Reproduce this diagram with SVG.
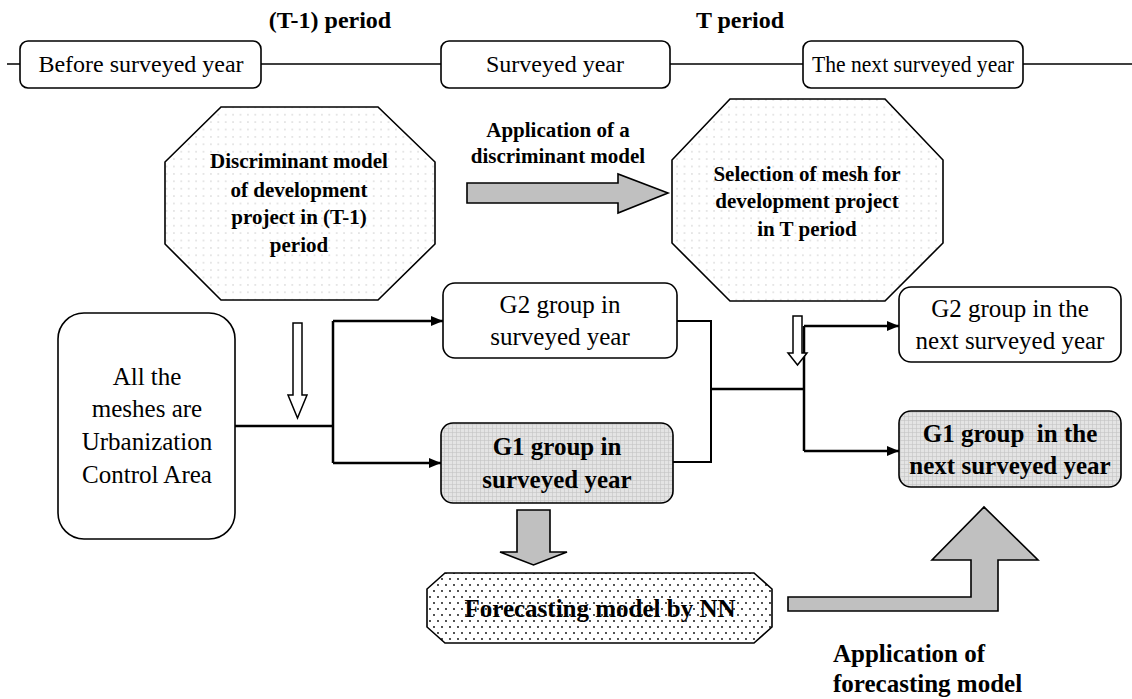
<svg xmlns="http://www.w3.org/2000/svg" width="1132" height="699" viewBox="0 0 1132 699">
<defs>
<pattern id="dots" width="7.4" height="7.4" patternUnits="userSpaceOnUse">
<rect width="7.4" height="7.4" fill="#ffffff"/>
<circle cx="3.7" cy="3.7" r="0.65" fill="#b8b8b8"/>
</pattern>
<pattern id="bigdots" width="8" height="12" patternUnits="userSpaceOnUse">
<rect width="8" height="12" fill="#ffffff"/>
<circle cx="2" cy="3" r="0.9" fill="#000000"/>
<circle cx="6" cy="9" r="0.9" fill="#000000"/>
</pattern>
<pattern id="grid" width="4" height="4" patternUnits="userSpaceOnUse">
<rect width="4" height="4" fill="#e4e4e4"/>
<path d="M0 0.5H4M0.5 0V4" stroke="#c4c4c4" stroke-width="0.6"/>
</pattern>
<marker id="ah" markerWidth="12" markerHeight="10" refX="12" refY="5" orient="auto" markerUnits="userSpaceOnUse">
<path d="M0 0L12 5L0 10Z" fill="#000"/>
</marker>
</defs>
<style>
.box{fill:#fff;stroke:#000;stroke-width:1.6}
.gbox{fill:url(#grid);stroke:#000;stroke-width:1.6}
.oct{fill:url(#dots);stroke:#000;stroke-width:1.6}
.octd{fill:url(#bigdots);stroke:#000;stroke-width:1.6}
.garrow{fill:#c0c0c0;stroke:#000;stroke-width:1.6}
.harrow{fill:#fff;stroke:#000;stroke-width:1.5}
.t{font-family:"Liberation Serif","Times New Roman",serif;fill:#000}
.r24{font-size:24px}
.r25{font-size:25px}
.b21{font-size:21px;font-weight:bold}
.b24{font-size:24px;font-weight:bold}
.b25{font-size:25px;font-weight:bold}
.line{stroke:#000;stroke-width:1.6;fill:none}
.conn{stroke:#000;stroke-width:2.5;fill:none}
.conn2{stroke:#000;stroke-width:2;fill:none}
</style>

<g id="timeline">
<path class="line" d="M7 64H20M261 64H441M670 64H803M1023 64H1132"/>
</g>
<text class="t b24" x="330" y="28" text-anchor="middle">(T-1) period</text>
<text class="t b24" x="740" y="28" text-anchor="middle">T period</text>

<g id="before">
<rect class="box" x="20" y="41" width="241" height="47" rx="8"/>
<text class="t r24" x="141" y="72" text-anchor="middle">Before surveyed year</text>
</g>
<g id="surveyed">
<rect class="box" x="441" y="41" width="229" height="47" rx="8"/>
<text class="t r24" x="555" y="72" text-anchor="middle">Surveyed year</text>
</g>
<g id="next">
<rect class="box" x="803" y="41" width="220" height="47" rx="8"/>
<text class="t r24" x="913" y="72" text-anchor="middle" textLength="202" lengthAdjust="spacingAndGlyphs">The next surveyed year</text>
</g>

<g id="disc-model">
<polygon class="oct" points="221,107 378,107 435,162 435,244 378,300 221,300 165,244 165,162"/>
<text class="t b21" x="299" y="168" text-anchor="middle">Discriminant model</text>
<text class="t b21" x="299" y="197" text-anchor="middle">of development</text>
<text class="t b21" x="299" y="224" text-anchor="middle">project in (T-1)</text>
<text class="t b21" x="299" y="252" text-anchor="middle">period</text>
</g>

<g id="selection">
<polygon class="oct" points="730,99 885,99 943,160 943,243 885,301 730,301 672,243 672,160"/>
<text class="t b21" x="807" y="181" text-anchor="middle">Selection of mesh for</text>
<text class="t b21" x="807" y="208" text-anchor="middle">development project</text>
<text class="t b21" x="807" y="236" text-anchor="middle">in T period</text>
</g>

<g id="apply-disc">
<polygon class="garrow" points="467,183 618,183 618,174 668,193 618,213 618,203 467,203"/>
<text class="t b21" x="558" y="137" text-anchor="middle">Application of a</text>
<text class="t b21" x="558" y="163" text-anchor="middle">discriminant model</text>
</g>

<g id="all-meshes">
<rect class="box" x="58" y="313" width="177" height="226" rx="26"/>
<text class="t r25" x="147" y="385" text-anchor="middle">All the</text>
<text class="t r25" x="147" y="417" text-anchor="middle">meshes are</text>
<text class="t r25" x="147" y="450" text-anchor="middle">Urbanization</text>
<text class="t r25" x="147" y="483" text-anchor="middle">Control Area</text>
</g>

<g id="g2-surveyed">
<rect class="box" x="443" y="283" width="234" height="75" rx="12"/>
<text class="t r25" x="560" y="313" text-anchor="middle">G2 group in</text>
<text class="t r25" x="560" y="345" text-anchor="middle">surveyed year</text>
</g>

<g id="g1-surveyed">
<rect class="gbox" x="441" y="423" width="232" height="80" rx="12"/>
<text class="t b25" x="557" y="455" text-anchor="middle">G1 group in</text>
<text class="t b25" x="557" y="488" text-anchor="middle">surveyed year</text>
</g>

<g id="g2-next">
<rect class="box" x="899" y="287" width="222" height="75" rx="12"/>
<text class="t r25" x="1010" y="317" text-anchor="middle">G2 group in the</text>
<text class="t r25" x="1010" y="349" text-anchor="middle">next surveyed year</text>
</g>

<g id="g1-next">
<rect class="gbox" x="899" y="411" width="222" height="76" rx="12"/>
<text class="t b25" x="1010" y="442" text-anchor="middle" xml:space="preserve">G1 group  in the</text>
<text class="t b25" x="1010" y="474" text-anchor="middle">next surveyed year</text>
</g>

<g id="forecast">
<polygon class="octd" points="445,573 754,573 772,589 772,627 754,643 445,643 427,627 427,589"/>
<text class="t b25" x="600" y="617" text-anchor="middle">Forecasting model by NN</text>
</g>

<g id="apply-forecast">
<polygon class="garrow" points="788,597 971,597 971,560 932,560 984,507 1038,560 998,560 998,611 788,611"/>
<text class="t b25" x="833" y="662">Application of</text>
<text class="t b25" x="833" y="692">forecasting model</text>
</g>

<g id="connectors">
<path class="conn" d="M235 426H333M333 321V463"/>
<path class="conn" d="M333 321H443" marker-end="url(#ah)"/>
<path class="conn" d="M333 463H441" marker-end="url(#ah)"/>
<path class="conn2" d="M677 321H711V462H673"/>
<path class="conn" d="M711 389H804M804 326V451"/>
<path class="conn" d="M804 326H899" marker-end="url(#ah)"/>
<path class="conn" d="M804 451H899" marker-end="url(#ah)"/>
<polygon class="harrow" points="293,323 302,323 302,395 307,395 297.5,418 288,395 293,395"/>
<polygon class="harrow" points="793,316 802,316 802,353 807,353 797.5,365 788,353 793,353"/>
<polygon class="garrow" points="517,510 550,510 550,552 567,552 533.5,565 500,552 517,552"/>
</g>
</svg>
